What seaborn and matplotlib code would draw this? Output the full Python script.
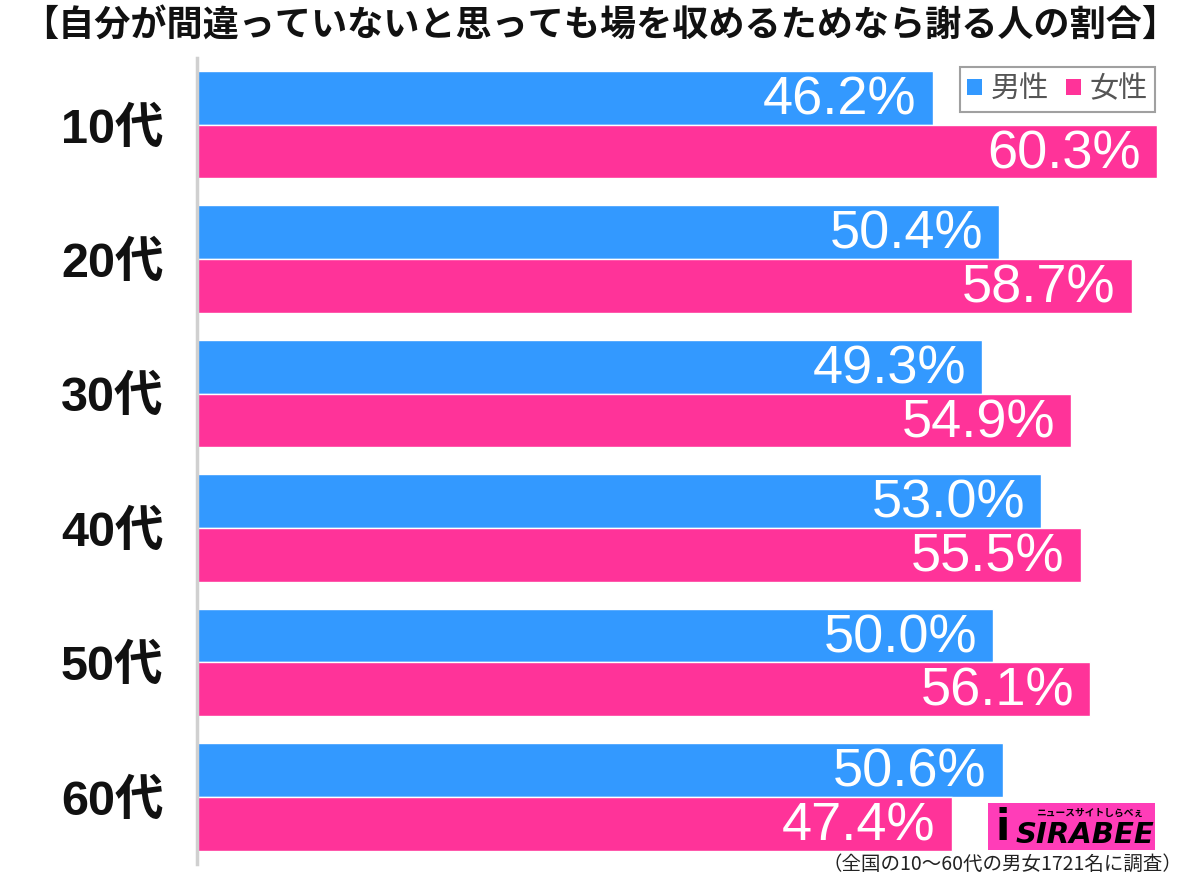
import matplotlib
matplotlib.use("Agg")
import matplotlib.pyplot as plt
import seaborn as sns
import pandas as pd
from matplotlib.patches import Patch, Rectangle

ages = ["10代", "20代", "30代", "40代", "50代", "60代"]
male = [46.2, 50.4, 49.3, 53.0, 50.0, 50.6]
female = [60.3, 58.7, 54.9, 55.5, 56.1, 47.4]
series = ["男性", "女性"]
colors = ["#3399ff", "#ff3399"]
title = "【自分が間違っていないと思っても場を収めるためなら謝る人の割合】"
note = "（全国の10〜60代の男女1721名に調査）"

sns.set_theme(style="white")
plt.rcParams["font.family"] = ["Noto Sans CJK JP", "DejaVu Sans"]

df = pd.DataFrame({
    "age": ages * 2,
    "value": male + female,
    "sex": [series[0]] * len(ages) + [series[1]] * len(ages),
})

fig = plt.figure(figsize=(12, 8.77), dpi=100)
ax = fig.add_axes([197 / 1200, 13 / 877, (1180 - 197) / 1200, (865 - 58.5) / 877])
sns.barplot(data=df, x="value", y="age", hue="sex", orient="h", palette=colors,
            width=0.8, saturation=1, legend=False, ax=ax, order=ages, hue_order=series)
ax.set_xlim(0, (1180 - 197) / 15.92)
ax.set_ylim(5.5, -0.5)
ax.set_xlabel("")
ax.set_ylabel("")
ax.set_xticks([])
for s in ["top", "right", "bottom"]:
    ax.spines[s].set_visible(False)
ax.spines["left"].set_color("#d0d0d0")
ax.spines["left"].set_linewidth(2.5)
ax.tick_params(axis="y", length=0, pad=24, labelsize=35, labelcolor="#111111")
for lab in ax.get_yticklabels():
    lab.set_family(["Liberation Sans", "Noto Sans CJK JP"])
    lab.set_fontweight("bold")

lab_font = ["Liberation Sans", "DejaVu Sans"]
for i in range(len(ages)):
    ax.text(male[i] - 1.0, i - 0.18, f"{male[i]:.1f}%", color="white", fontsize=39,
            ha="right", va="center", family=lab_font)
    ax.text(female[i] - 1.0, i + 0.22, f"{female[i]:.1f}%", color="white", fontsize=39,
            ha="right", va="center", family=lab_font)

fig.text(0.5, 1 - 26 / 877, title, ha="center", va="center", fontsize=26,
         fontweight="bold", color="#111111")

handles = [Patch(facecolor=c, edgecolor="none") for c in colors]
leg = fig.legend(handles, series, loc="upper right",
                 bbox_to_anchor=(1155 / 1200, 1 - 67 / 877), ncol=2, fontsize=21,
                 frameon=True, fancybox=False, edgecolor="#888888",
                 handlelength=0.5, handleheight=0.5, handletextpad=0.3,
                 columnspacing=0.6, borderpad=0.25, borderaxespad=0)
leg.get_frame().set_linewidth(1.5)
for t in leg.get_texts():
    t.set_color("#555555")

# logo
fig.patches.append(Rectangle((988 / 1200, 1 - 850 / 877), 167 / 1200, 47 / 877,
                             transform=fig.transFigure, facecolor="#ff3db8",
                             edgecolor="none"))
fig.text(1003 / 1200, 1 - 828 / 877, "i", fontsize=30, fontweight="bold",
         color="black", ha="center", va="center", family="DejaVu Sans")
fig.text(1085 / 1200, 1 - 835 / 877, "SIRABEE", fontsize=21, fontweight="bold",
         fontstyle="italic", color="black", ha="center", va="center", family="DejaVu Sans")
fig.text(1090 / 1200, 1 - 813 / 877, "ニュースサイトしらべぇ", fontsize=7,
         fontweight="bold", color="black", ha="center", va="center")

fig.text(1182 / 1200, 1 - 864 / 877, note, ha="right", va="center", fontsize=14,
         color="#222222")

fig.savefig("out.png", dpi=100)
